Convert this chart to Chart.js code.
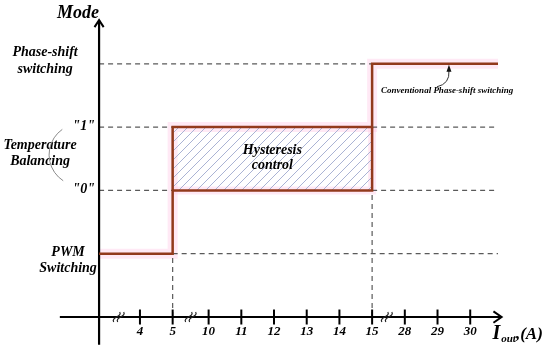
<!DOCTYPE html>
<html>
<head>
<meta charset="utf-8">
<script src="https://cdn.jsdelivr.net/npm/chart.js@4.4.1/dist/chart.umd.min.js"></script>
<style>
  html, body { margin: 0; padding: 0; background: #fff; }
  #wrap { width: 550px; height: 350px; position: relative; }
</style>
</head>
<body>
<div id="wrap"><canvas id="myChart"></canvas></div>
<script>
// x is in "axis units": the current axis is broken, so 4, 5, 10..15, 28..30 are not to scale
var tickLabels = ['4', '5', '10', '11', '12', '13', '14', '15', '28', '29', '30'];
var tickPos = [1.25, 2.25, 3.35, 4.35, 5.35, 6.35, 7.35, 8.35, 9.35, 10.35, 11.35];
var breakPos = [0.6, 2.8, 8.8];

// mode levels on the y axis
var modeLevels = [1, 2, 3, 4];
var modeNames = [['PWM', 'Switching'], ['"0"'], ['"1"'], ['Phase-shift', 'switching']];

// switching thresholds (5 A and 15 A) and end of the drawn range
var lowX = 2.25;
var highX = 8.35;
var endX = 12.2;

// mode curve
var curveX = [0, lowX, lowX, highX, highX, endX];
var curveY = [1, 1, 3, 3, 4, 4];

// hysteresis band
var bandX = [lowX, highX];
var bandLow = [2, 2];
var bandHigh = [3, 3];
var edgeX = [lowX, highX, highX];
var edgeY = [2, 2, 3];

// dashed guides
var guideX = [[0, highX], [0, lowX], [highX, endX], [0, lowX], [highX, endX], [lowX, endX]];
var guideY = [4, 3, 3, 2, 2, 1];
var dropX = [lowX, highX];
var dropTop = [1, 2];

function pts(xs, ys) {
  return xs.map(function (x, i) { return { x: x, y: ys[i] }; });
}

var ctx = document.getElementById('myChart').getContext('2d');

function hatch() {
  var c = document.createElement('canvas');
  c.width = 9; c.height = 9;
  var g = c.getContext('2d');
  g.strokeStyle = '#aab3d4';
  g.lineWidth = 1;
  g.beginPath();
  g.moveTo(0, 9); g.lineTo(9, 0);
  g.moveTo(-1, 1); g.lineTo(1, -1);
  g.moveTo(8, 10); g.lineTo(10, 8);
  g.stroke();
  return ctx.createPattern(c, 'repeat');
}

var brown = '#923a1c';
var halo = 'rgba(255,200,230,0.4)';
var datasets = [];

// hatched band (index 0 fills to index 1)
datasets.push({ data: pts(bandX, bandHigh), borderWidth: 0, borderColor: 'transparent', backgroundColor: hatch(), fill: '+1', order: 9 });
datasets.push({ data: pts(bandX, bandLow), borderWidth: 0, borderColor: 'transparent', fill: false, order: 9 });

// pink halo under the mode curve
datasets.push({ data: pts(curveX, curveY), borderColor: halo, borderWidth: 10, fill: false, order: 20 });
datasets.push({ data: pts(edgeX, edgeY), borderColor: halo, borderWidth: 8, fill: false, order: 20 });

// dashed guides
guideX.forEach(function (seg, i) {
  datasets.push({ data: pts(seg, [guideY[i], guideY[i]]), borderColor: '#5a5a5a', borderWidth: 1.2, borderDash: [5, 4], fill: false, order: 8 });
});
dropX.forEach(function (x, i) {
  datasets.push({ data: pts([x, x], [0, dropTop[i]]), borderColor: '#5a5a5a', borderWidth: 1.2, borderDash: [5, 4], fill: false, order: 8 });
});

// axes, arrows and tick marks
datasets.push({ data: pts([-1.2, 12.31], [0, 0]), borderColor: '#000', borderWidth: 2, fill: false, order: 5 });
datasets.push({ data: pts([0, 0], [-0.44, 4.69]), borderColor: '#000', borderWidth: 2.2, fill: false, order: 5 });
datasets.push({ data: pts([12.06, 12.31, 12.06], [0.09, 0, -0.09]), borderColor: '#000', borderWidth: 2, fill: false, order: 5 });
datasets.push({ data: pts([-0.14, 0, 0.14], [4.58, 4.69, 4.58]), borderColor: '#000', borderWidth: 2, fill: false, order: 5 });
datasets.push({ data: pts(tickPos, tickPos.map(function () { return 0; })), showLine: false, pointStyle: 'line', rotation: 90, pointRadius: 7.5, borderColor: '#000', borderWidth: 2, order: 5 });

// mode curve and the remaining edges of the band
datasets.push({ data: pts(curveX, curveY), borderColor: brown, borderWidth: 2.5, fill: false, order: 1 });
datasets.push({ data: pts(edgeX, edgeY), borderColor: brown, borderWidth: 2.5, fill: false, order: 1 });

var serif = '"Liberation Serif", "DejaVu Serif", serif';

var textPlugin = {
  id: 'texts',
  afterDatasetsDraw: function (chart) {
    var c = chart.ctx;
    var xs = chart.scales.x, ys = chart.scales.y;
    var x0 = xs.getPixelForValue(0), y0 = ys.getPixelForValue(0);
    c.save();
    c.fillStyle = '#000';
    c.textBaseline = 'middle';

    // y axis title
    c.font = 'bold italic 18px ' + serif;
    c.textAlign = 'center';
    c.fillText('Mode', x0 - 21, 13);

    // mode labels
    c.font = 'bold italic 14px ' + serif;
    modeLevels.forEach(function (lv, i) {
      var py = ys.getPixelForValue(lv);
      var lines = modeNames[i];
      if (lv === 4) {
        c.textAlign = 'center';
        c.fillText(lines[0], x0 - 54, py - 11);
        c.fillText(lines[1], x0 - 54, py + 6);
      } else if (lv === 1) {
        c.textAlign = 'center';
        c.fillText(lines[0], x0 - 31, py - 1);
        c.fillText(lines[1], x0 - 31, py + 15);
      } else {
        c.textAlign = 'right';
        c.fillText(lines[0], x0 - 4, py - 1);
      }
    });
    var pm = ys.getPixelForValue(2.5);
    c.textAlign = 'center';
    c.fillText('Temperature', x0 - 59, pm - 13);
    c.fillText('Balancing', x0 - 59, pm + 3);

    // bracket arc behind the label
    c.strokeStyle = '#8a8a8a';
    c.lineWidth = 1;
    c.beginPath();
    c.arc(x0 - 19, pm - 4, 31, 123 * Math.PI / 180, 235 * Math.PI / 180);
    c.stroke();

    // band label
    var pb = xs.getPixelForValue((lowX + highX) / 2);
    c.fillText('Hysteresis', pb, ys.getPixelForValue(2.5) - 8);
    c.fillText('control', pb, ys.getPixelForValue(2.5) + 7);

    // x tick labels
    c.font = 'bold italic 13px ' + serif;
    tickPos.forEach(function (p, i) {
      c.fillText(tickLabels[i], xs.getPixelForValue(p), y0 + 15);
    });

    // axis break marks (two small slanted waves)
    c.strokeStyle = '#222';
    c.lineWidth = 1.2;
    breakPos.forEach(function (p) {
      var px = xs.getPixelForValue(p);
      [-2, 2].forEach(function (k) {
        c.beginPath();
        c.moveTo(px + k - 3, y0 + 5);
        c.bezierCurveTo(px + k - 6, y0, px + k + 6, y0, px + k + 3, y0 - 5);
        c.stroke();
      });
    });

    // x axis title
    c.textAlign = 'left';
    c.textBaseline = 'alphabetic';
    var tx = xs.getPixelForValue(12.03), ty = y0 + 22;
    c.font = 'bold italic 20px ' + serif;
    c.fillText('I', tx, ty);
    tx += c.measureText('I').width + 1;
    c.font = 'bold italic 11px ' + serif;
    c.fillText('out', tx, ty + 3);
    tx += c.measureText('out').width;
    c.font = 'bold italic 17px ' + serif;
    c.fillText(',(A)', tx, ty);

    // note for the top segment
    var p4 = ys.getPixelForValue(4);
    c.font = 'bold italic 9px ' + serif;
    c.textBaseline = 'middle';
    c.fillText('Conventional Phase-shift switching', xs.getPixelForValue(highX) + 9, p4 + 27);
    var ax = xs.getPixelForValue(10.7);
    c.strokeStyle = '#333';
    c.lineWidth = 1;
    c.beginPath();
    c.moveTo(ax - 12, p4 + 23);
    c.quadraticCurveTo(ax + 1, p4 + 20, ax, p4 + 7);
    c.stroke();
    c.fillStyle = '#111';
    c.beginPath();
    c.moveTo(ax, p4 + 1);
    c.lineTo(ax - 2.5, p4 + 8);
    c.lineTo(ax + 2.5, p4 + 8);
    c.closePath();
    c.fill();
    c.restore();
  }
};

var chart = new Chart(ctx, {
  type: 'line',
  data: { datasets: datasets },
  options: {
    responsive: true,
    maintainAspectRatio: false,
    animation: false,
    layout: { padding: 0, autoPadding: false },
    elements: { point: { radius: 0 }, line: { tension: 0 } },
    plugins: { legend: { display: false }, tooltip: { enabled: false } },
    scales: {
      x: { type: 'linear', display: false, min: -3.03, max: 13.79 },
      y: { type: 'linear', display: false, min: -0.521, max: 5.008 }
    }
  },
  plugins: [textPlugin]
});
</script>
</body>
</html>
